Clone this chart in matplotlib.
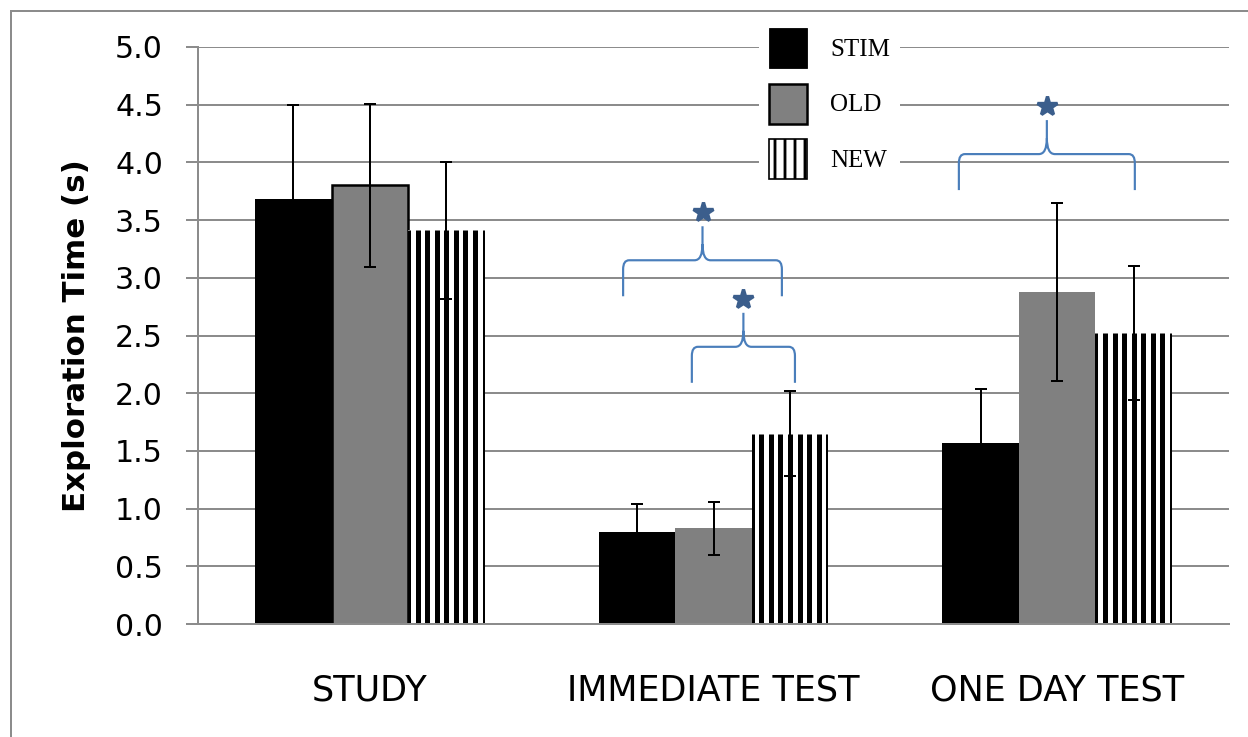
import numpy as np
import matplotlib.pyplot as plt
from matplotlib.path import Path
from matplotlib.patches import PathPatch, Rectangle, Patch

# Data
groups = ['STUDY', 'IMMEDIATE TEST', 'ONE DAY TEST']
series = ['STIM', 'OLD', 'NEW']
stim = [3.68, 0.80, 1.57]
old = [3.80, 0.83, 2.88]
new = [3.41, 1.65, 2.52]
stim_err = [0.82, 0.24, 0.47]
old_err = [0.71, 0.23, 0.77]
new_err = [0.59, 0.37, 0.58]
yticks = [0.0, 0.5, 1.0, 1.5, 2.0, 2.5, 3.0, 3.5, 4.0, 4.5, 5.0]

# significance braces: (left x, right x, bottom y) in data units
braces = [(0.737, 1.199, 2.84), (0.937, 1.237, 2.09), (1.714, 2.226, 3.76)]

W, H, DPI = 1248, 737, 120
GRAY = '#8c8c8c'
BLUE = '#4a7ebb'
STAR = '#3b5e8c'

# only the legend swatch uses a real hatch (finer stripes there)
plt.rcParams['hatch.linewidth'] = 1.7

fig = plt.figure(figsize=(W / DPI, H / DPI), dpi=DPI)
ax_l, ax_r, ax_t, ax_b = 198, 1229, 47, 624
ax = fig.add_axes([ax_l / W, 1 - ax_b / H, (ax_r - ax_l) / W, (ax_b - ax_t) / H])

x = np.arange(len(groups))
w = 0.2226
b_stim = ax.bar(x - w, stim, w, color='black', linewidth=0, zorder=2)
b_old = ax.bar(x, old, w, color='#808080', edgecolor='black', linewidth=1.5, zorder=2)
for p in b_old[1:]:
    p.set_linewidth(0)
b_new = ax.bar(x + w, new, w, facecolor='white', linewidth=0, zorder=2)

# vertical stripes for NEW bars, clipped to each bar
for p in b_new:
    xs = np.linspace(p.get_x(), p.get_x() + p.get_width(), 9)
    lc = ax.vlines(xs, 0, p.get_height(), colors='black', linewidth=3.0, zorder=2.1)
    lc.set_clip_path(p)

for off, vals, errs in [(-w, stim, stim_err), (0, old, old_err), (w, new, new_err)]:
    ax.errorbar(x + off, vals, yerr=errs, fmt='none', ecolor='black',
                elinewidth=1.2, capsize=3.6, capthick=1.2, zorder=3)

ax.set_xlim(-0.5, 2.5)
ax.set_ylim(0, 5)
ax.set_yticks(yticks, ['%.1f' % v for v in yticks])
ax.set_xticks(x, groups)
ax.grid(axis='y', color=GRAY, linewidth=1.2)
ax.set_axisbelow(True)
for s in ['top', 'right']:
    ax.spines[s].set_visible(False)
for s in ['left', 'bottom']:
    ax.spines[s].set_color(GRAY)
    ax.spines[s].set_linewidth(1.2)
ax.tick_params(axis='y', length=7.2, width=1.2, color=GRAY, pad=13.8, labelsize=18)
ax.tick_params(axis='x', length=0, pad=29.5, labelsize=21)
ax.set_ylabel('Exploration Time (s)', fontsize=18.5, fontweight='bold')
ax.yaxis.set_label_coords((91 - ax_l) / (ax_r - ax_l), 0.5)

# curly braces with stars
sx = 3 / (ax_r - ax_l)
sy = 5 / (ax_b - ax_t)
for x0, x1, yb in braces:
    xc = (x0 + x1) / 2
    h, rv, rh, cw, ch, top = 36, 9, 6, 8, 16, 70
    yh = yb + h * sy
    verts = [(x0, yb), (x0, yb + (h - rv) * sy), (x0, yh), (x0 + rh * sx, yh),
             (xc - cw * sx, yh), (xc, yh), (xc, yb + (h + ch) * sy), (xc, yb + top * sy),
             (xc, yb + (h + ch) * sy), (xc, yh), (xc + cw * sx, yh),
             (x1 - rh * sx, yh), (x1, yh), (x1, yb + (h - rv) * sy), (x1, yb)]
    codes = [Path.MOVETO, Path.LINETO, Path.CURVE3, Path.CURVE3,
             Path.LINETO, Path.CURVE3, Path.CURVE3, Path.LINETO,
             Path.MOVETO, Path.CURVE3, Path.CURVE3,
             Path.LINETO, Path.CURVE3, Path.CURVE3, Path.LINETO]
    ax.add_patch(PathPatch(Path(verts, codes), fill=False, edgecolor=BLUE,
                           linewidth=1.3, zorder=4))
    ax.plot(xc, yb + 84 * sy, marker='*', ms=12, color=STAR, mec=STAR, mew=2,
            zorder=4)

handles = [Patch(facecolor='black', edgecolor='black', linewidth=0.5),
           Patch(facecolor='#808080', edgecolor='black', linewidth=1.5),
           Patch(facecolor='white', edgecolor='black', linewidth=1, hatch='||')]
leg = ax.legend(handles, series, loc='upper left', bbox_to_anchor=(759 / W, 1 - 18 / H),
                bbox_transform=fig.transFigure, borderaxespad=0, borderpad=0.4,
                handlelength=1.52, handleheight=2.085, handletextpad=0.92,
                labelspacing=0.62, frameon=True, fancybox=False,
                prop={'family': 'Liberation Serif', 'size': 15})
leg.get_frame().set_edgecolor('none')
leg.get_frame().set_facecolor('white')
leg.get_frame().set_alpha(1)

# outer chart-area border (cut off at right and bottom in the reference)
fig.add_artist(Rectangle((11 / W, -0.5), 2, 1.5 - 11 / H, transform=fig.transFigure,
                         fill=False, edgecolor=GRAY, linewidth=1.2))

fig.savefig('out.png', dpi=DPI)
